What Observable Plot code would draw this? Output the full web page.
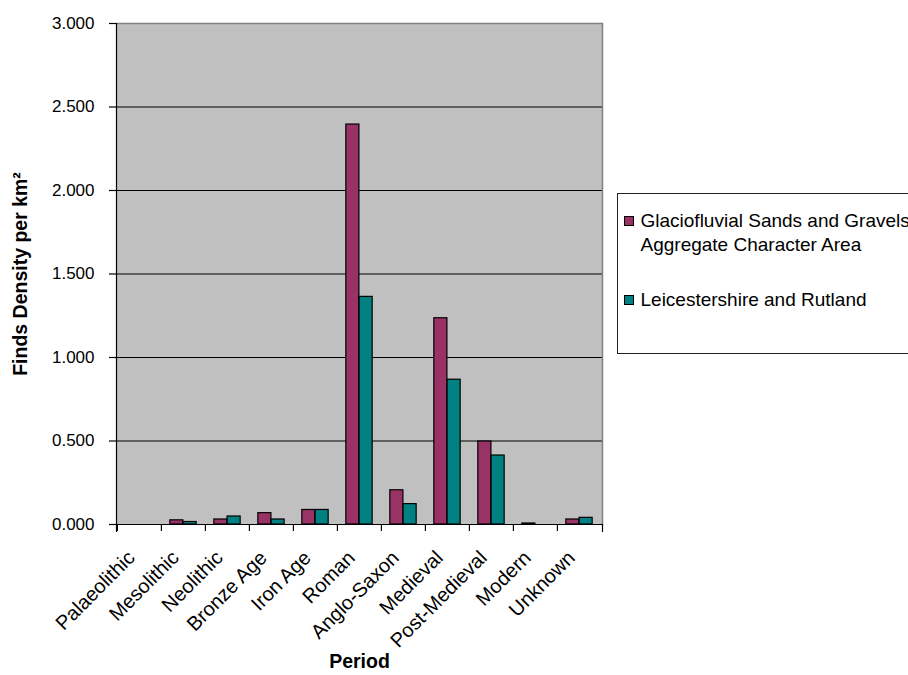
<!DOCTYPE html>
<html>
<head>
<meta charset="utf-8">
<script src="https://cdn.jsdelivr.net/npm/d3@7"></script>
<script src="https://cdn.jsdelivr.net/npm/@observablehq/plot@0.6"></script>
<style>
  html, body { margin: 0; padding: 0; background: #fff; overflow: hidden; }
  #wrap { position: relative; width: 908px; height: 675px; font-family: "Liberation Sans", Arial, sans-serif; color: #000; }
  #chart svg { display: block; }
  #legend {
    position: absolute; left: 617px; top: 193px; width: 330px; height: 161px;
    border: 1.5px solid #222; background: #fff; box-sizing: border-box;
    font-size: 19px; line-height: 24px;
  }
  .item { position: absolute; left: 22.5px; white-space: nowrap; }
  .swatch { position: absolute; left: -17px; top: 7px; width: 8px; height: 8px; border: 1px solid #000; }
</style>
</head>
<body>
<div id="wrap">
  <div id="chart"></div>
  <div id="legend"></div>
</div>
<script>
// Finds density per km² by archaeological period
const periods = ["Palaeolithic", "Mesolithic", "Neolithic", "Bronze Age", "Iron Age", "Roman",
  "Anglo-Saxon", "Medieval", "Post-Medieval", "Modern", "Unknown"];
const seriesNames = ["Glaciofluvial Sands and Gravels Aggregate Character Area", "Leicestershire and Rutland"];
const legendLines = [["Glaciofluvial Sands and Gravels", "Aggregate Character Area"], ["Leicestershire and Rutland"]];
const glaciofluvial = [0, 0.025, 0.030, 0.068, 0.087, 2.395, 0.205, 1.235, 0.497, 0.006, 0.030];
const leicsRutland  = [0, 0.015, 0.048, 0.030, 0.087, 1.363, 0.122, 0.867, 0.413, 0.000, 0.040];
const yTicks = [0, 0.5, 1, 1.5, 2, 2.5, 3];
const seriesColors = ["#993366", "#008080"];

// one table per series; zero values draw no bar
const toRows = values => periods.map((p, i) => ({period: p, value: values[i]})).filter(d => d.value > 0);
const glacioRows = toRows(glaciofluvial);
const leicsRows = toRows(leicsRutland);

const W = 908, H = 675;
const mL = 116, mR = 306, mT = 23, mB = 151;
const plotW = W - mL - mR, plotH = H - mT - mB;
const step = plotW / periods.length;           // width of one period band
const gap = step * 0.2;                        // space either side of a bar pair
const barW = (step - 2 * gap) / 2;             // width of one bar
const fmt = d3.format(".3f");

const chart = Plot.plot({
  width: W, height: H,
  marginLeft: mL, marginRight: mR, marginTop: mT, marginBottom: mB,
  style: {fontFamily: "'Liberation Sans', Arial, sans-serif", fontSize: "17px", color: "#000", background: "#fff", overflow: "visible"},
  x: {domain: periods, padding: 0, label: null, axis: null},
  y: {domain: [0, 3], label: null, axis: null},
  marks: [
    // plot area background, gridlines and border
    Plot.frame({fill: "#c0c0c0", stroke: "none"}),
    Plot.ruleY(yTicks.filter(v => v > 0 && v < 3), {stroke: "#000", strokeWidth: 1.2}),
    Plot.ruleY([3], {stroke: "#808080", strokeWidth: 1.5}),
    Plot.frame({anchor: "right", stroke: "#808080", strokeWidth: 1.5}),
    // grouped bars: first series on the left half of each band, second on the right
    Plot.barY(glacioRows, {x: "period", y: "value", fill: seriesColors[0], stroke: "#000", strokeWidth: 1.2,
      insetLeft: gap, insetRight: gap + barW}),
    Plot.barY(leicsRows, {x: "period", y: "value", fill: seriesColors[1], stroke: "#000", strokeWidth: 1.2,
      insetLeft: gap + barW, insetRight: gap}),
    // axis lines and period boundary ticks
    Plot.ruleY([0], {stroke: "#000", strokeWidth: 1.2}),
    Plot.frame({anchor: "left", stroke: "#000", strokeWidth: 1.2, insetBottom: -7}),
    Plot.axisX({tickSize: 7, tickFormat: () => "", dx: -step / 2, strokeWidth: 1.2, label: null}),
    Plot.frame({anchor: "right", stroke: "#000", strokeWidth: 1.2, insetTop: plotH, insetBottom: -7}),
    Plot.axisY({ticks: yTicks, tickFormat: fmt, tickSize: 7, tickPadding: 15, strokeWidth: 1.2, fontSize: 17, label: null}),
    Plot.axisX({tickSize: 0, tickRotate: -45, tickPadding: 30, dx: -8, fontSize: 20, label: null}),
    // axis titles
    Plot.text(["Period"], {frameAnchor: "bottom", dy: 143, fontWeight: "bold", fontSize: 19.5}),
    Plot.text(["Finds Density per km²"], {frameAnchor: "left", dx: -96, rotate: -90, textAnchor: "middle", fontWeight: "bold", fontSize: 19.5})
  ]
});
document.getElementById("chart").appendChild(chart);

// legend box to the right of the plot
const legend = d3.select("#legend");
let itemTop = 15;
legendLines.forEach((lines, i) => {
  const item = legend.append("div").attr("class", "item").style("top", itemTop + "px");
  item.append("div").attr("class", "swatch").style("background", seriesColors[i]);
  item.append("span").html(lines.join("<br>"));
  itemTop += lines.length * 24 + 31;
});
</script>
</body>
</html>
